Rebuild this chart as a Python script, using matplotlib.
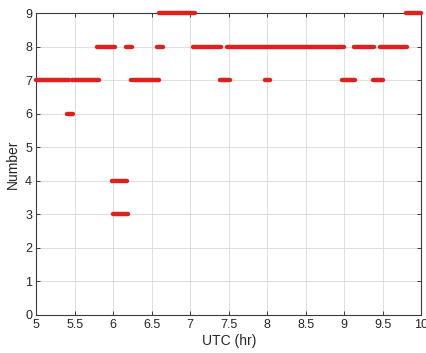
import matplotlib
matplotlib.use('Agg')
import matplotlib.pyplot as plt

plt.rcParams['font.family'] = ['Liberation Sans', 'DejaVu Sans']

# Each run: level, start hour, end hour (UTC)
levels = [9, 9,
          8, 8, 8, 8, 8, 8, 8,
          7, 7, 7, 7, 7, 7, 7,
          6, 4, 3]
starts = [6.60, 9.80,
          5.79, 6.16, 6.57, 7.03, 7.48, 9.12, 9.47,
          5.00, 5.46, 6.23, 7.38, 7.97, 8.97, 9.37,
          5.40, 5.99, 6.00]
ends = [7.06, 10.0,
        6.02, 6.25, 6.64, 7.40, 9.00, 9.39, 9.82,
        5.42, 5.81, 6.59, 7.51, 8.03, 9.14, 9.50,
        5.48, 6.18, 6.19]

xticks = [5, 5.5, 6, 6.5, 7, 7.5, 8, 8.5, 9, 9.5, 10]
yticks = list(range(10))

fig = plt.figure(figsize=(4.26, 3.53), dpi=100)
ax = fig.add_axes([0.085, 0.108, 0.904, 0.855])

ax.hlines(levels, starts, ends, colors='#e0201c', linewidth=3.2,
          capstyle='round', zorder=3, clip_on=False)

ax.set_xlim(5, 10)
ax.set_ylim(0, 9)
ax.set_xticks(xticks)
ax.set_xticklabels([f'{t:g}' for t in xticks])
ax.set_yticks(yticks)
ax.grid(True, color='#dedede', linewidth=0.7)
ax.set_axisbelow(True)

for s in ax.spines.values():
    s.set_color('#3a3a3a')
    s.set_linewidth(0.8)
ax.tick_params(direction='in', top=True, right=True, length=3, width=0.7,
               colors='#3a3a3a', labelsize=9, labelcolor='#262626', pad=3)

ax.set_xlabel('UTC (hr)', fontsize=10, color='#262626', labelpad=2)
ax.set_ylabel('Number', fontsize=10, color='#262626', labelpad=4)

fig.savefig('out.png', dpi=100)
